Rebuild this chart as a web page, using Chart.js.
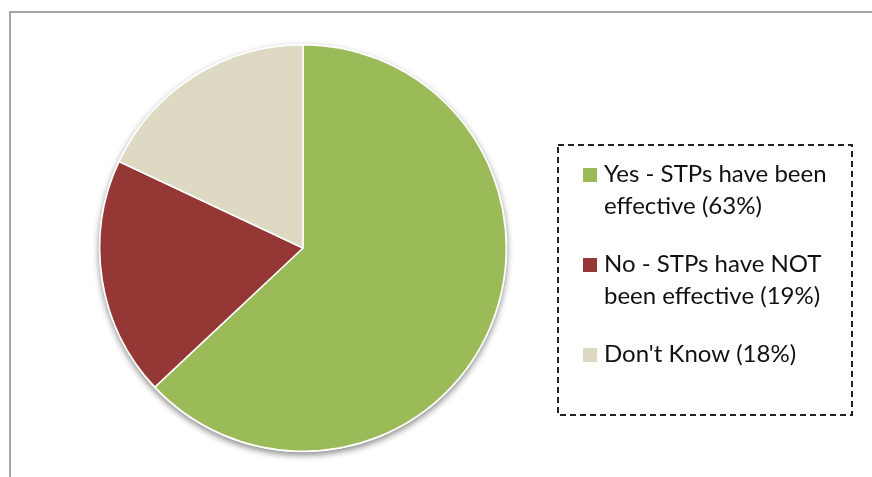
<!DOCTYPE html>
<html>
<head>
<meta charset="utf-8">
<script src="https://cdn.jsdelivr.net/npm/chart.js@4"></script>
<style>
  html, body { margin: 0; padding: 0; background: #fff; overflow: hidden; }
  #wrap { position: relative; width: 872px; height: 477px; }
  #frame {
    position: absolute; left: 9px; top: 11px; width: 900px; height: 500px;
    border-left: 2px solid #a6a6a6; border-top: 2px solid #a6a6a6;
  }
  canvas { position: absolute; left: 0; top: 0; }
</style>
</head>
<body>
<div id="wrap">
  <div id="frame"></div>
  <canvas id="myChart" width="872" height="477"></canvas>
</div>
<script>
// survey answers
var answers = [
    ['Yes - STPs have been', 'effective (63%)'],
    ['No - STPs have NOT', 'been effective (19%)'],
    ["Don't Know (18%)"]
];
var shares = [63, 19, 18];
var sliceColors = ['#9bbb59', '#953735', '#ddd9c3'];

// soft drop shadow under the whole pie
var pieShadow = {
    id: 'pieShadow',
    beforeDatasetsDraw: function(chart) {
        var arc = chart.getDatasetMeta(0).data[0];
        if (!arc) return;
        var ctx = chart.ctx;
        ctx.save();
        ctx.shadowColor = 'rgba(0,0,0,0.45)';
        ctx.shadowBlur = 6;
        ctx.shadowOffsetY = 3;
        ctx.fillStyle = '#fff';
        ctx.beginPath();
        ctx.arc(arc.x, arc.y, arc.outerRadius + 1, 0, Math.PI * 2);
        ctx.fill();
        ctx.restore();
    }
};

// dashed legend box on the right
var boxLegend = {
    id: 'boxLegend',
    afterDraw: function(chart) {
        var ctx = chart.ctx;
        ctx.save();
        ctx.strokeStyle = '#222';
        ctx.lineWidth = 2;
        ctx.setLineDash([6, 4]);
        ctx.strokeRect(558, 145, 294, 270);
        ctx.setLineDash([]);

        ctx.font = '24px Lato';
        ctx.textBaseline = 'alphabetic';
        var y = 182;
        for (var i = 0; i < answers.length; i++) {
            ctx.fillStyle = sliceColors[i];
            ctx.fillRect(583, y - 14, 14, 14);
            ctx.fillStyle = '#111';
            for (var j = 0; j < answers[i].length; j++) {
                ctx.fillText(answers[i][j], 604, y + j * 32);
            }
            y += answers[i].length * 32 + 26;
        }
        ctx.restore();
    }
};

var ctx = document.getElementById('myChart').getContext('2d');
var chart = new Chart(ctx, {
    type: 'pie',
    data: {
        labels: answers.map(function(a) { return a.join(' '); }),
        datasets: [{
            data: shares,
            backgroundColor: sliceColors,
            borderColor: '#fff',
            borderWidth: 1.5
        }]
    },
    options: {
        responsive: false,
        animation: false,
        layout: { padding: { top: 44, bottom: 25, left: 99, right: 365 } },
        plugins: {
            legend: { display: false },
            tooltip: { enabled: false }
        }
    },
    plugins: [pieShadow, boxLegend]
});
</script>
</body>
</html>
